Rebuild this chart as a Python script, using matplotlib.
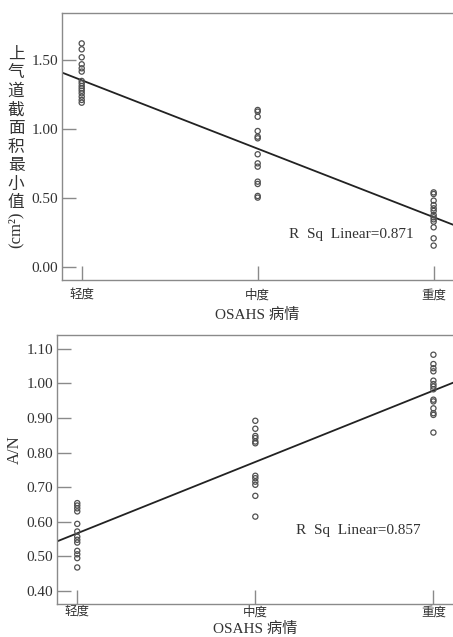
import matplotlib
matplotlib.use("Agg")
import matplotlib.pyplot as plt
import numpy as np

plt.rcParams['font.family'] = ['Liberation Serif', 'Noto Sans CJK SC', 'DejaVu Sans']

categories = ["轻度", "中度", "重度"]
xlabel = "OSAHS 病情"

# Panel 1: upper airway minimal cross-sectional area (cm²)
area_mild = [1.623, 1.580, 1.522, 1.471, 1.442, 1.418, 1.350, 1.333, 1.313,
             1.296, 1.279, 1.260, 1.236, 1.212, 1.192]
area_moderate = [1.139, 1.127, 1.090, 0.986, 0.945, 0.933, 0.817, 0.751,
                 0.727, 0.618, 0.601, 0.514, 0.502]
area_severe = [0.540, 0.528, 0.480, 0.448, 0.424, 0.405, 0.376, 0.359,
               0.344, 0.327, 0.286, 0.206, 0.153]
area_r2 = "R  Sq  Linear=0.871"
area_yticks = [0.00, 0.50, 1.00, 1.50]

# Panel 2: A/N ratio
an_mild = [0.654, 0.647, 0.639, 0.630, 0.594, 0.572, 0.557, 0.548, 0.540,
           0.516, 0.506, 0.495, 0.468]
an_moderate = [0.892, 0.869, 0.848, 0.842, 0.832, 0.827, 0.733, 0.726,
               0.716, 0.707, 0.675, 0.615]
an_severe = [1.083, 1.056, 1.044, 1.035, 1.008, 0.998, 0.991, 0.983, 0.953,
             0.948, 0.928, 0.914, 0.909, 0.858]
an_r2 = "R  Sq  Linear=0.857"
an_yticks = [0.40, 0.50, 0.60, 0.70, 0.80, 0.90, 1.00, 1.10]

W, H = 453, 637
fig = plt.figure(figsize=(W / 100, H / 100), dpi=100)
fig.patch.set_facecolor('white')

spine_c = '#8a8a8a'
text_c = '#333333'


def panel(rect, groups, yticks, ylim, r2text, r2pos, xpad, lpad):
    ax = fig.add_axes(rect)
    xs, ys = [], []
    for i, g in enumerate(groups):
        x = np.full(len(g), i + 1.0)
        xs.extend(x)
        ys.extend(g)
        ax.scatter(x, g, s=14, facecolors='none', edgecolors='#505050',
                   linewidths=0.9, zorder=3)
    xlim = (0.888, 3.11)
    k, b = np.polyfit(xs, ys, 1)
    xx = np.array(xlim)
    ax.plot(xx, k * xx + b, color='#222222', lw=1.3, zorder=2)
    ax.set_xlim(*xlim)
    ax.set_ylim(*ylim)
    ax.set_xticks([1, 2, 3])
    ax.set_xticklabels(categories, fontsize=9,
                       family=['Noto Sans CJK SC'], color=text_c)
    ax.set_yticks(yticks)
    ax.set_yticklabels([f"{v:.2f}" for v in yticks], fontsize=11, color=text_c)
    ax.tick_params(direction='in', length=10, width=1, color=spine_c, pad=3)
    ax.tick_params(axis='x', pad=xpad)
    for s in ['left', 'bottom', 'top']:
        ax.spines[s].set_color(spine_c)
        ax.spines[s].set_linewidth(1)
    ax.spines['right'].set_visible(False)
    ax.set_xlabel(xlabel, fontsize=11, color=text_c, labelpad=lpad)
    ax.text(r2pos[0], r2pos[1], r2text, fontsize=11, color=text_c,
            transform=ax.transData, ha='left', va='center')
    return ax


ax1 = panel([62 / W, (H - 280) / H, 1 - 62 / W, 267 / H],
            [area_mild, area_moderate, area_severe], area_yticks,
            (-0.097, 1.844), area_r2, (2.176, 0.235), 6.5, 4.5)

ax2 = panel([57.3 / W, (H - 604.3) / H, 1 - 57.3 / W, 269.3 / H],
            [an_mild, an_moderate, an_severe], an_yticks,
            (0.3615, 1.14), an_r2, (2.229, 0.575), 1.3, 2.2)

# Stacked vertical Chinese y label for panel 1
ylabel_chars = "上气道截面积最小值"
for i, ch in enumerate(ylabel_chars):
    fig.text(16 / W, 1 - (54 + i * 18.6) / H, ch, fontsize=12,
             family=['Noto Sans CJK SC'], color=text_c,
             ha='center', va='center')
fig.text(16 / W, 1 - 230 / H, "(cm²)", fontsize=12, rotation=90,
         color=text_c, ha='center', va='center')

fig.text(15 / W, 1 - 450 / H, "A/N", fontsize=12, rotation=90,
         color=text_c, ha='center', va='center')

fig.savefig("out.png", dpi=100, facecolor='white')
